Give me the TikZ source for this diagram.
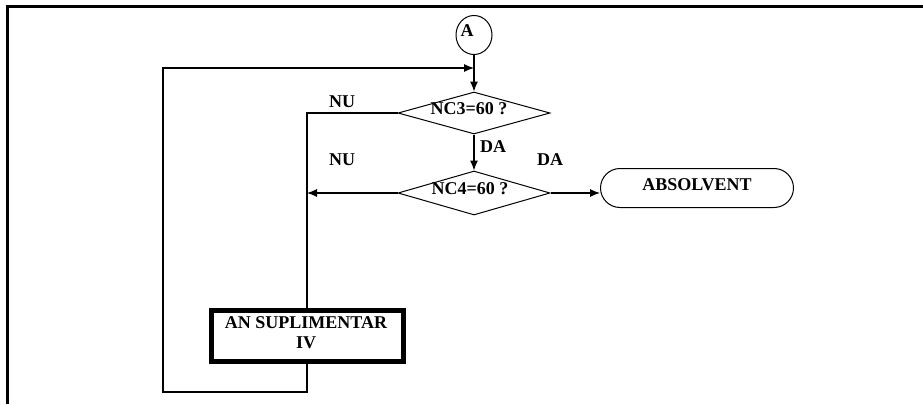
\documentclass[tikz,border=0pt]{standalone}
\usepackage{fontspec}
\setmainfont{Liberation Serif}
\usetikzlibrary{arrows.meta,shapes.geometric}
\begin{document}
\begin{tikzpicture}[x=1pt,y=-1pt,
  lbl/.style={font=\bfseries\fontsize{18}{20}\selectfont, inner sep=0pt},
  line/.style={line width=1.1pt},
  arr/.style={line, -{Latex[length=10pt,width=8pt]}},
  dia/.style={draw, diamond, line width=1pt, inner sep=0pt, minimum width=152pt, minimum height=42pt},
  stad/.style={draw, rectangle, line width=1pt, rounded corners=19.5pt, minimum width=193pt, minimum height=39pt},
  pbox/.style={draw, rectangle, line width=5pt, minimum width=192pt, minimum height=51pt, align=center}]
\useasboundingbox (0,0) rectangle (923,404);
% frame
\draw[line width=3pt] (7,404) -- (7,7) -- (923,7);
% nodes
\node[draw, ellipse, line width=1pt, minimum width=36pt, minimum height=39pt] (A) at (474,35) {};
\node[lbl] (tA) at (467,31) {A};
\node[dia] (d1) at (474,113) {};
\node[lbl] (t1) at (469,109) {NC3=60 ?};
\node[dia, minimum height=44pt] (d2) at (474,193) {};
\node[lbl] (t2) at (470,189) {NC4=60 ?};
\node[stad] (abs) at (697,188) {};
\node[lbl] (t3) at (697,185) {ABSOLVENT};
\node[pbox] (box) at (307,336) {};
\node[lbl, align=center] (t4) at (306,333) {AN SUPLIMENTAR\\IV};
% labels
\node[lbl] (nu1) at (342,102) {NU};
\node[lbl] (nu2) at (342,160) {NU};
\node[lbl] (da1) at (493,147) {DA};
\node[lbl] (da2) at (550,160) {DA};
% connectors
\draw[arr] (A.south) -- (d1.north);
\draw[arr] (d1.south) -- (d2.north);
\draw[arr] (d2.east) -- (d2.east -| abs.west);
\draw[line] (d1.west) -- (d1.west -| box.north) -- (box.north);
\draw[arr] (d2.west) -- (d2.west -| box.north);
\coordinate (lb) at (163,392);
\coordinate (lt) at (163,68);
\draw[arr] (box.south) |- (lb) -- (lt) -- (lt -| A.south);
\end{tikzpicture}
\end{document}
